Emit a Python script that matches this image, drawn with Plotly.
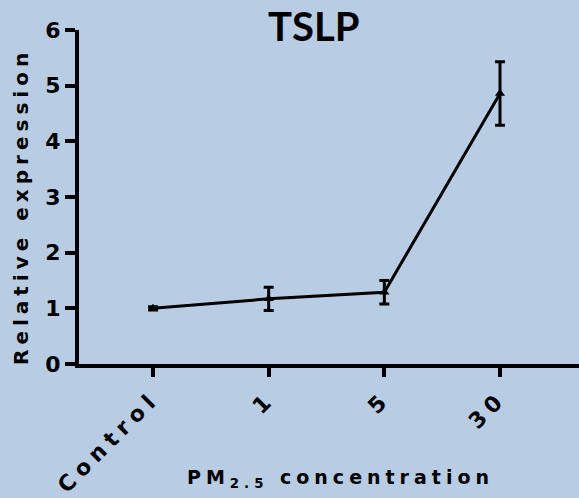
import plotly.graph_objects as go

# PM2.5 exposure groups and TSLP relative expression (mean ± error)
categories = ["Control", "1", "5", "30"]
means = [1.0, 1.17, 1.29, 4.86]
errors = [0.03, 0.21, 0.21, 0.57]
y_ticks = [0, 1, 2, 3, 4, 5, 6]
significance = "****"

BG = "#b8cce4"
FONT = "DejaVu Sans, Liberation Sans, Arial, sans-serif"


def spaced(text, px):
    return f'<span style="letter-spacing:{px}px">{text}</span>'


fig = go.Figure()
fig.add_trace(
    go.Scatter(
        x=categories,
        y=means,
        mode="lines+markers",
        line=dict(color="black", width=3),
        marker=dict(symbol="triangle-up", size=9, color="black"),
        error_y=dict(type="data", array=errors, visible=True,
                     color="black", thickness=3, width=5),
        showlegend=False,
    )
)

fig.update_layout(
    width=579,
    height=498,
    margin=dict(l=79, r=0, t=30, b=134),
    paper_bgcolor=BG,
    plot_bgcolor=BG,
    font=dict(family=FONT, color="black"),
)

fig.update_xaxes(
    type="category",
    range=[-0.640, 3.683],
    tickmode="array",
    tickvals=categories,
    ticktext=[spaced(c, 6) for c in categories],
    tickangle=-45,
    tickfont=dict(size=22, family=FONT, weight="bold"),
    showline=True, linecolor="black", linewidth=4,
    ticks="outside", ticklen=9, tickwidth=4, tickcolor="black",
    showgrid=False, zeroline=False,
)

fig.update_yaxes(
    range=[0, 6],
    tickvals=y_ticks,
    tickfont=dict(size=22, family=FONT, weight="bold"),
    showline=True, linecolor="black", linewidth=4,
    ticks="outside", ticklen=10, tickwidth=4, tickcolor="black",
    showgrid=False, zeroline=False,
)

# Title, axis titles and significance marker
fig.add_annotation(
    text="<b>TSLP</b>", xref="paper", yref="paper", x=0.468, y=1.012,
    xanchor="center", yanchor="middle", showarrow=False,
    font=dict(size=40, family="Lato, sans-serif", color="black"),
)
fig.add_annotation(
    text=spaced("<b>Relative expression</b>", 5), xref="paper", yref="paper",
    x=-0.116, y=0.47, textangle=-90, xanchor="center", yanchor="middle",
    showarrow=False, font=dict(size=20, family=FONT, color="black"),
)
fig.add_annotation(
    text=spaced("<b>PM<sub>2.5</sub> concentration</b>", 5), xref="paper", yref="paper",
    x=0.522, y=-0.344, xanchor="center", yanchor="middle",
    showarrow=False, font=dict(size=19, family=FONT, color="black"),
)
fig.add_annotation(
    text=significance, xref="x", yref="y", x=categories[3], y=5.95,
    xshift=-8, xanchor="center", yanchor="middle", showarrow=False,
    font=dict(size=30, family="Liberation Sans, Arial, sans-serif", color="black"),
)

fig.write_html("out.html")
